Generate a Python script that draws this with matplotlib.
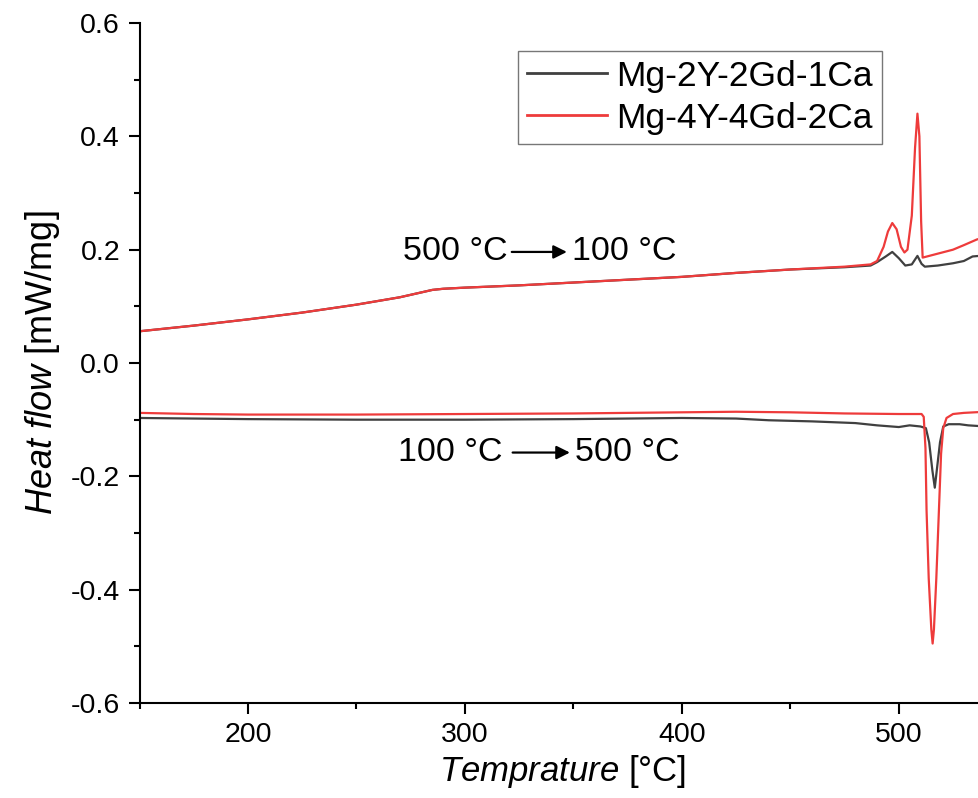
import matplotlib
matplotlib.use("Agg")
import matplotlib.pyplot as plt
from matplotlib.ticker import MultipleLocator

plt.rcParams['font.family'] = ['Liberation Sans', 'DejaVu Sans']
plt.rcParams['mathtext.fontset'] = 'custom'
plt.rcParams['mathtext.rm'] = 'Liberation Sans'
plt.rcParams['mathtext.it'] = 'Liberation Sans:italic'

# cooling run (500 -> 100 C)
cool_t_1 = [150, 175, 200, 225, 250, 270, 285, 290, 300, 325, 350, 375, 400, 425, 450, 475, 487,
            490, 494, 497, 500, 503, 506, 508.6, 510.5, 512, 518, 525, 530, 534, 540]
cool_hf_1 = [0.056, 0.066, 0.077, 0.089, 0.103, 0.116, 0.129, 0.131, 0.133, 0.137, 0.142, 0.147,
             0.152, 0.159, 0.165, 0.169, 0.172,
             0.178, 0.188, 0.196, 0.185, 0.172, 0.174, 0.189, 0.175, 0.170, 0.172, 0.176, 0.180,
             0.188, 0.190]
cool_t_2 = [150, 175, 200, 225, 250, 270, 285, 290, 300, 325, 350, 375, 400, 425, 450, 475, 487,
            490, 493, 495, 497, 499, 501, 502.6, 504, 506, 507.5, 508.6, 509.5, 510.3, 511,
            515, 520, 525, 530, 536, 540]
cool_hf_2 = [0.056, 0.066, 0.077, 0.089, 0.103, 0.116, 0.129, 0.131, 0.133, 0.137, 0.142, 0.147,
             0.152, 0.159, 0.165, 0.170, 0.174,
             0.180, 0.205, 0.232, 0.247, 0.236, 0.205, 0.195, 0.200, 0.260, 0.380, 0.440, 0.400,
             0.250, 0.186,
             0.190, 0.195, 0.200, 0.208, 0.218, 0.222]

# heating run (100 -> 500 C)
heat_t_1 = [150, 200, 250, 300, 350, 375, 400, 425, 440, 460, 480, 490, 500, 505, 510, 512.5,
            514, 515.5, 516.6, 517.5, 519, 520.5, 523, 528, 532, 540]
heat_hf_1 = [-0.097, -0.099, -0.100, -0.100, -0.099, -0.098, -0.097, -0.098, -0.101, -0.103,
             -0.106, -0.110, -0.113, -0.110, -0.112, -0.115,
             -0.140, -0.190, -0.220, -0.190, -0.140, -0.112, -0.108, -0.108, -0.110, -0.112]
heat_t_2 = [150, 175, 200, 250, 300, 350, 400, 425, 450, 475, 500, 510.5, 511.5, 512.3, 512.8,
            513.8, 515.0, 515.6, 516.2, 517.3, 518.5, 519.5, 520.5, 522, 525, 530, 540]
heat_hf_2 = [-0.088, -0.090, -0.091, -0.091, -0.090, -0.089, -0.087, -0.086, -0.087, -0.089,
             -0.090, -0.090, -0.095, -0.150, -0.260,
             -0.380, -0.470, -0.495, -0.470, -0.380, -0.260, -0.160, -0.115, -0.097, -0.090,
             -0.088, -0.086]

labels = ['Mg-2Y-2Gd-1Ca', 'Mg-4Y-4Gd-2Ca']
colors = ['#404040', '#ee3b3b']

fig = plt.figure(figsize=(9.79, 7.98), dpi=100)
ax = fig.add_axes([0.1425, 0.119, 0.8642, 0.8522])

ax.plot(cool_t_1, cool_hf_1, color=colors[0], lw=1.6, label=labels[0])
ax.plot(heat_t_1, heat_hf_1, color=colors[0], lw=1.6)
ax.plot(cool_t_2, cool_hf_2, color=colors[1], lw=1.6, label=labels[1])
ax.plot(heat_t_2, heat_hf_2, color=colors[1], lw=1.6)

ax.set_xlim(150, 540)
ax.set_ylim(-0.6, 0.6)
ax.xaxis.set_major_locator(MultipleLocator(100))
ax.xaxis.set_minor_locator(MultipleLocator(50))
ax.yaxis.set_major_locator(MultipleLocator(0.2))
ax.yaxis.set_minor_locator(MultipleLocator(0.1))
ax.yaxis.set_major_formatter(lambda v, p: '%.1f' % v)

ax.spines['top'].set_visible(False)
ax.spines['right'].set_visible(False)
for s in ['left', 'bottom']:
    ax.spines[s].set_linewidth(1.5)
ax.tick_params(which='major', direction='out', length=8, width=1.5, labelsize=20.5, pad=6)
ax.tick_params(which='minor', direction='out', length=4, width=1.5)

ax.set_xlabel(r'$\mathit{Temprature}$ [°C]', fontsize=25, labelpad=3)
ax.set_ylabel(r'$\mathit{Heat\ flow}$ [mW/mg]', fontsize=26, labelpad=6)

# run direction annotations
ax.text(319.8, 0.196, '500 °C', fontsize=24.5, ha='right', va='center')
ax.text(349.3, 0.196, '100 °C', fontsize=24.5, ha='left', va='center')
ax.annotate('', xy=(347, 0.196), xytext=(321.6, 0.196),
            arrowprops=dict(arrowstyle='-|>', lw=1.6, color='black', mutation_scale=20,
                            shrinkA=0, shrinkB=0))
ax.text(317.5, -0.158, '100 °C', fontsize=24.5, ha='right', va='center')
ax.text(350.7, -0.158, '500 °C', fontsize=24.5, ha='left', va='center')
ax.annotate('', xy=(348.4, -0.158), xytext=(322, -0.158),
            arrowprops=dict(arrowstyle='-|>', lw=1.6, color='black', mutation_scale=20,
                            shrinkA=0, shrinkB=0))

leg = fig.legend(loc='upper left', bbox_to_anchor=(518 / 979, 1 - 51 / 798),
                 fontsize=25.5, frameon=True, fancybox=False, handlelength=2.25,
                 handletextpad=0.28, labelspacing=0.25, borderpad=0.25, borderaxespad=0)
leg.get_frame().set_edgecolor('#555555')
leg.get_frame().set_linewidth(1.0)
for line in leg.get_lines():
    line.set_linewidth(2)

fig.savefig('out.png', dpi=100)
